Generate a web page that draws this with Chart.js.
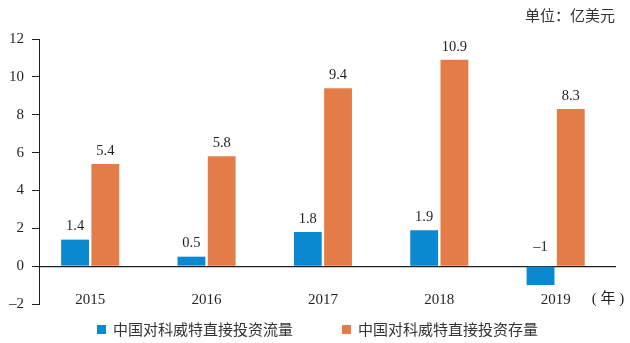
<!DOCTYPE html>
<html>
<head>
<meta charset="utf-8">
<script src="https://cdn.jsdelivr.net/npm/chart.js@4/dist/chart.umd.min.js"></script>
<style>
  html, body { margin: 0; padding: 0; background: #fff; }
  #wrap { position: relative; width: 630px; height: 343px; }
  #legend { position: absolute; left: 97px; top: 320px; display: flex; font-family: 'Noto Sans CJK SC', sans-serif; font-size: 15px; color: #333; line-height: 18px; }
  #legend .item { display: flex; align-items: center; }
  #legend .item + .item { margin-left: 49px; }
  #legend .box { width: 9px; height: 9px; margin-right: 7px; }
</style>
</head>
<body>
<div id="wrap">
  <canvas id="chart" width="630" height="343"></canvas>
  <div id="legend"></div>
</div>
<script>
const years = [2015, 2016, 2017, 2018, 2019];
const flowValues = [1.4, 0.5, 1.8, 1.9, -1];
const stockValues = [5.4, 5.8, 9.4, 10.9, 8.3];
const seriesNames = ['中国对科威特直接投资流量', '中国对科威特直接投资存量'];
const seriesColors = ['#0a88d0', '#e47c47'];
const unitText = '单位：亿美元';
const yearUnit = '( 年 )';

const serif = "'Liberation Serif', 'Times New Roman', serif";
const cjk = "'Noto Sans CJK SC', sans-serif";

function fmt(v) {
    return v < 0 ? '–' + Math.abs(v) : String(v);
}

// value labels above bars + the (年) label
const barLabels = {
    id: 'barLabels',
    afterDatasetsDraw(chart) {
        const ctx = chart.ctx;
        const yScale = chart.scales.y;
        const xScale = chart.scales.x;
        ctx.save();
        ctx.font = '14.5px ' + serif;
        ctx.fillStyle = '#231f20';
        ctx.textAlign = 'center';
        ctx.textBaseline = 'middle';
        chart.data.datasets.forEach((ds, i) => {
            chart.getDatasetMeta(i).data.forEach((bar, j) => {
                const v = ds.data[j].y;
                const y = yScale.getPixelForValue(Math.max(v, 0)) - (v < 0 ? 19 : 13);
                ctx.fillText(fmt(v), bar.x, y);
            });
        });
        ctx.font = '15px ' + serif + ", 'Noto Sans CJK SC'";
        ctx.fillText(yearUnit, xScale.right - 7, yScale.getPixelForValue(0) + 33);
        ctx.restore();
    }
};

new Chart(document.getElementById('chart'), {
    type: 'bar',
    data: {
        datasets: [
            { label: seriesNames[0], data: years.map((y, i) => ({ x: y, y: flowValues[i] })), backgroundColor: seriesColors[0] },
            { label: seriesNames[1], data: years.map((y, i) => ({ x: y, y: stockValues[i] })), backgroundColor: seriesColors[1] }
        ]
    },
    options: {
        responsive: false,
        animation: false,
        categoryPercentage: 0.52,
        barPercentage: 0.92,
        layout: { padding: { left: 0, right: 15, top: 0, bottom: 39 } },
        plugins: {
            legend: { display: false },
            tooltip: { enabled: false },
            title: {
                display: true,
                text: unitText,
                align: 'end',
                color: '#333',
                font: { family: cjk, size: 15, weight: 'normal' },
                padding: { top: 6, bottom: 15 }
            }
        },
        scales: {
            x: {
                type: 'linear',
                min: 2014.56,
                max: 2019.51,
                offset: false,
                position: { y: 0 },
                afterBuildTicks: s => { s.ticks = years.map(v => ({ value: v })); },
                grid: { display: false, drawTicks: false },
                border: { display: true, color: '#231f20', width: 1.2 },
                ticks: {
                    padding: 25,
                    color: '#231f20',
                    font: { family: serif, size: 15 },
                    callback: v => String(v)
                }
            },
            y: {
                min: -2,
                max: 12,
                afterFit: s => { s.width = 39; },
                grid: { display: true, drawOnChartArea: false, drawTicks: true, tickLength: 7, color: '#231f20' },
                border: { display: true, color: '#231f20', width: 1 },
                ticks: {
                    stepSize: 2,
                    padding: 8,
                    color: '#231f20',
                    font: { family: serif, size: 15 },
                    callback: v => fmt(v)
                }
            }
        }
    },
    plugins: [barLabels]
});

// legend as html below the canvas
const legend = document.getElementById('legend');
seriesNames.forEach((name, i) => {
    const item = document.createElement('div');
    item.className = 'item';
    const box = document.createElement('span');
    box.className = 'box';
    box.style.background = seriesColors[i];
    const txt = document.createElement('span');
    txt.textContent = name;
    item.appendChild(box);
    item.appendChild(txt);
    legend.appendChild(item);
});
</script>
</body>
</html>
